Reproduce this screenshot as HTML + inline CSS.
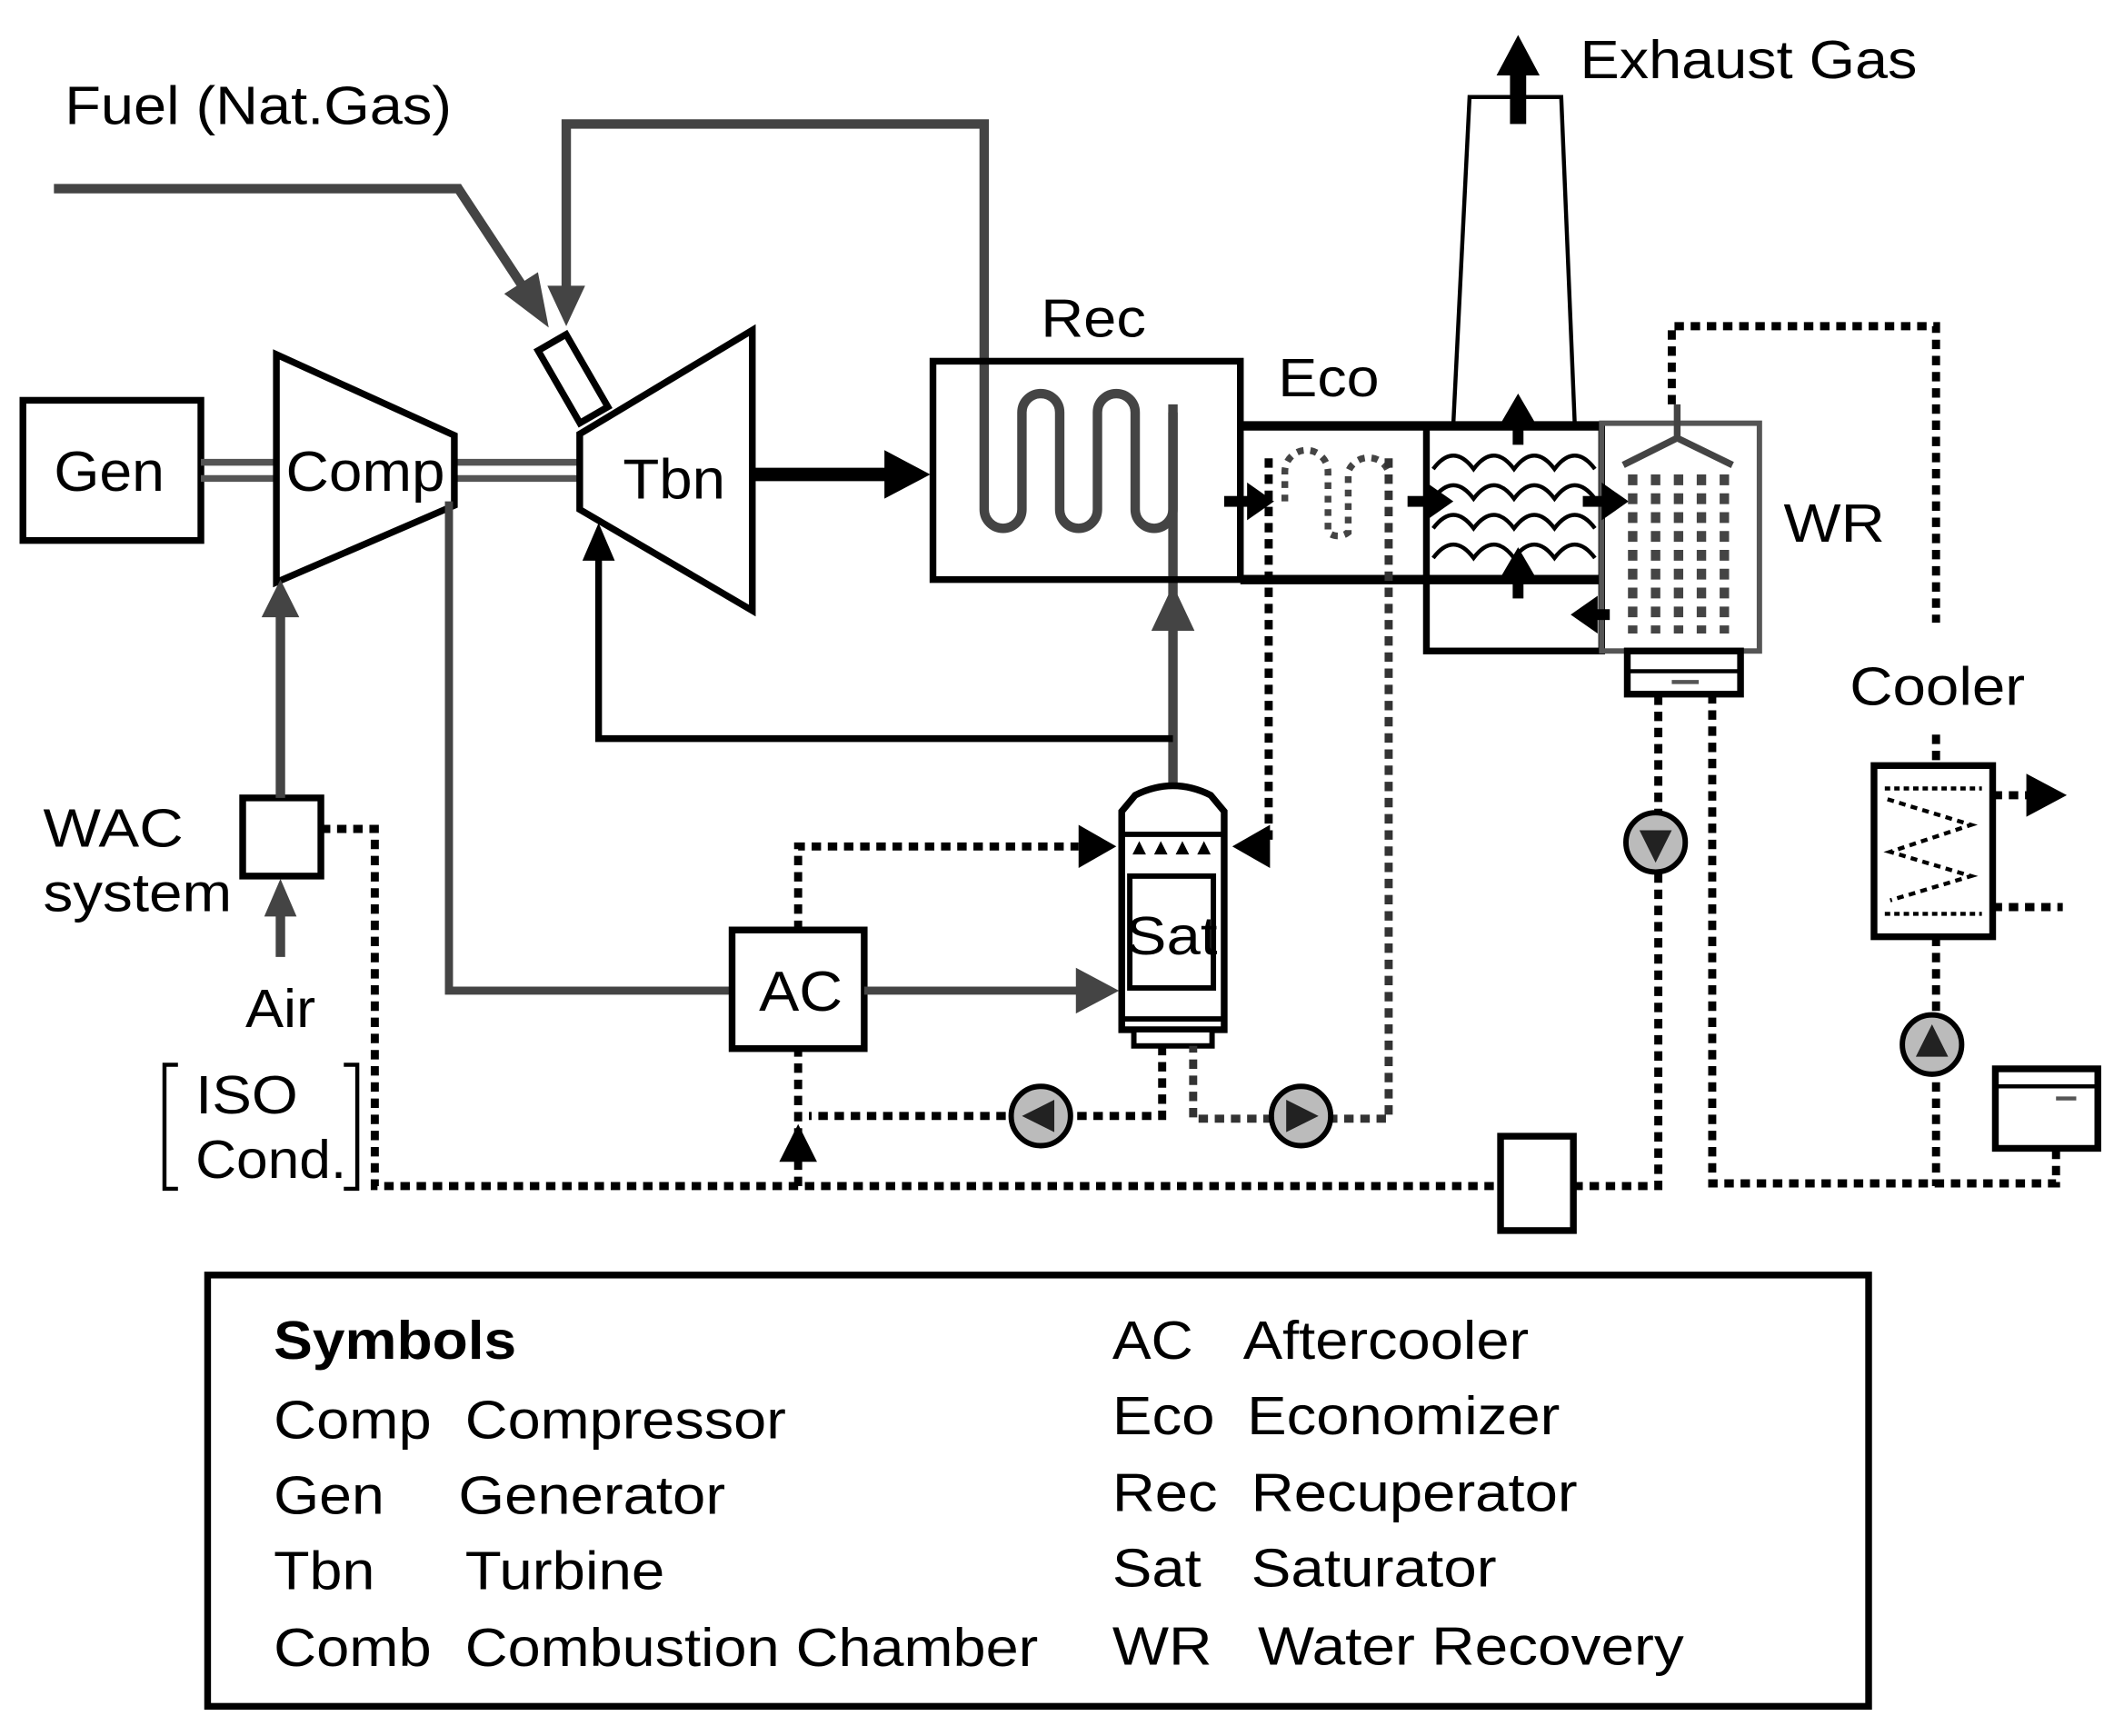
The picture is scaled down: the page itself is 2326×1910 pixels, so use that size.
<!DOCTYPE html>
<html><head><meta charset="utf-8"><style>
html,body{margin:0;padding:0;background:#fff;}
svg{display:block;}
text{font-family:"Liberation Sans",Arial,sans-serif;fill:#000;}
</style></head><body>
<svg width="2326" height="1910" viewBox="0 0 1568 1288" preserveAspectRatio="none" xmlns="http://www.w3.org/2000/svg">
<rect width="1568" height="1288" fill="#fff"/>

<!-- labels -->
<text x="48" y="92" font-size="40" textLength="287" lengthAdjust="spacingAndGlyphs">Fuel (Nat.Gas)</text>
<text x="1172" y="58" font-size="40" textLength="250" lengthAdjust="spacingAndGlyphs">Exhaust Gas</text>
<text x="772" y="250" font-size="40" textLength="78" lengthAdjust="spacingAndGlyphs">Rec</text>
<text x="948" y="294" font-size="40" textLength="75" lengthAdjust="spacingAndGlyphs">Eco</text>
<text x="1323" y="402" font-size="40" textLength="75" lengthAdjust="spacingAndGlyphs">WR</text>
<text x="1372" y="523" font-size="40" textLength="130" lengthAdjust="spacingAndGlyphs">Cooler</text>
<text x="32" y="628" font-size="40" textLength="104" lengthAdjust="spacingAndGlyphs">WAC</text>
<text x="32" y="676" font-size="40" textLength="140" lengthAdjust="spacingAndGlyphs">system</text>
<text x="182" y="762" font-size="40" textLength="52" lengthAdjust="spacingAndGlyphs">Air</text>
<text x="145" y="826" font-size="40" textLength="76" lengthAdjust="spacingAndGlyphs">ISO</text>
<text x="145" y="874" font-size="40" textLength="112" lengthAdjust="spacingAndGlyphs">Cond.</text>
<path d="M132,790 L122,790 L122,882 L132,882 M255,790 L265,790 L265,882 L255,882" fill="none" stroke="#000" stroke-width="3"/>

<!-- Gen -->
<rect x="17" y="297" width="132" height="104" fill="none" stroke="#000" stroke-width="5"/>
<text x="40" y="364" font-size="42" textLength="82" lengthAdjust="spacingAndGlyphs">Gen</text>
<path d="M149,343 H205 M149,355 H205 M337,343 H430 M337,355 H430" stroke="#555" stroke-width="5"/>
<!-- Comp -->
<polygon points="205,263 337,323 337,375 205,432" fill="#fff" stroke="#000" stroke-width="5"/>
<text x="212" y="364" font-size="42" textLength="118" lengthAdjust="spacingAndGlyphs">Comp</text>
<!-- Tbn -->
<polygon points="430,322 558,245 558,453 430,378" fill="#fff" stroke="#000" stroke-width="5"/>
<text x="462" y="370" font-size="42" textLength="76" lengthAdjust="spacingAndGlyphs">Tbn</text>
<!-- Comb -->
<rect x="413" y="250" width="24" height="62" fill="#fff" stroke="#000" stroke-width="5" transform="rotate(-30 425 281)"/>

<!-- fuel line -->
<path d="M40,140 H340 L388,213" fill="none" stroke="#444" stroke-width="7"/>
<polygon points="407,243 374,218 399,202" fill="#444"/>
<!-- loop from top into rec -->
<path d="M420,215 V92 H730 V378 A14 14 0 0 0 758 378 V306 A14 14 0 0 1 786 306 V378 A14 14 0 0 0 814 378 V306 A14 14 0 0 1 842 306 V378 A14 14 0 0 0 870 378 V306" fill="none" stroke="#444" stroke-width="7"/>
<polygon points="406,212 434,212 420,242" fill="#444"/>
<path d="M870,300 V548 M870,585 V460" fill="none" stroke="#444" stroke-width="7"/>
<polygon points="854,468 886,468 870,434" fill="#444"/>
<!-- return to turbine -->
<path d="M870,548 H444 V410" fill="none" stroke="#000" stroke-width="5"/>
<polygon points="432,416 456,416 444,388" fill="#000"/>

<!-- thick turbine exhaust -->
<path d="M558,352 H662" stroke="#000" stroke-width="10"/>
<polygon points="656,334 690,352 656,370" fill="#000"/>

<!-- Rec box -->
<rect x="692" y="268" width="228" height="162" fill="none" stroke="#000" stroke-width="5"/>
<!-- Eco etc -->
<path d="M920,316 H1190 M920,430 H1190" stroke="#000" stroke-width="7"/>
<rect x="1058" y="316" width="130" height="167" fill="none" stroke="#000" stroke-width="5"/>
<rect x="1188" y="314" width="117" height="169" fill="none" stroke="#555" stroke-width="4"/>
<!-- eco dotted coil -->
<path d="M953,372 V350 A16 16 0 0 1 985 350 V395 A12 12 0 0 0 1000 395 V350 A16 16 0 0 1 1030 350" fill="none" stroke="#444" stroke-width="5" stroke-dasharray="5 5"/>
<!-- wavy lines -->
<g fill="none" stroke="#000" stroke-width="3">
<path d="M1063,348 q15,-20 30,0 q15,-20 30,0 q15,-20 30,0 q15,-20 30,0"/>
<path d="M1063,370 q15,-20 30,0 q15,-20 30,0 q15,-20 30,0 q15,-20 30,0"/>
<path d="M1063,392 q15,-20 30,0 q15,-20 30,0 q15,-20 30,0 q15,-20 30,0"/>
<path d="M1063,414 q15,-20 30,0 q15,-20 30,0 q15,-20 30,0 q15,-20 30,0"/>
</g>
<!-- small arrows -->
<g fill="#000">
<polygon points="1112,316 1126,292 1140,316"/><rect x="1122" y="316" width="8" height="14"/>
<polygon points="1112,430 1126,406 1140,430"/><rect x="1122" y="430" width="8" height="14"/>
<polygon points="925,358 945,372 925,386"/><rect x="908" y="368" width="18" height="8"/>
<polygon points="1058,358 1078,372 1058,386"/><rect x="1044" y="368" width="16" height="8"/>
<polygon points="1188,358 1208,372 1188,386"/><rect x="1174" y="368" width="16" height="8"/>
<polygon points="1185,442 1165,456 1185,470"/><rect x="1184" y="452" width="10" height="8"/>
</g>
<!-- WR spray + packing -->
<path d="M1244,300 V325 M1244,325 L1204,345 M1244,325 L1285,345" stroke="#444" stroke-width="5" fill="none"/>
<g stroke="#444" stroke-width="7" stroke-dasharray="8 6">
<path d="M1211,352 V470 M1228,352 V470 M1245,352 V470 M1262,352 V470 M1279,352 V470"/>
</g>
<!-- WR sump -->
<rect x="1207" y="483" width="84" height="32" fill="#fff" stroke="#000" stroke-width="5"/>
<path d="M1207,498 H1291" stroke="#000" stroke-width="3"/>
<path d="M1240,506 H1260" stroke="#555" stroke-width="3"/>

<!-- stack -->
<path d="M1078,314 L1090,72 H1158 L1168,314" fill="none" stroke="#000" stroke-width="3"/>
<rect x="1120" y="52" width="12" height="40" fill="#000"/>
<polygon points="1110,56 1126,26 1142,56" fill="#000"/>

<!-- Air / WAC -->
<rect x="180" y="592" width="58" height="58" fill="#fff" stroke="#000" stroke-width="5"/>
<path d="M208,710 V675" stroke="#444" stroke-width="7"/>
<polygon points="196,680 220,680 208,652" fill="#444"/>
<path d="M208,592 V450" stroke="#444" stroke-width="7"/>
<polygon points="194,458 222,458 208,430" fill="#444"/>
<!-- comp to AC to Sat -->
<path d="M333,372 V735 H543" fill="none" stroke="#444" stroke-width="6"/>
<rect x="543" y="690" width="98" height="88" fill="#fff" stroke="#000" stroke-width="5"/>
<text x="563" y="750" font-size="42" textLength="62" lengthAdjust="spacingAndGlyphs">AC</text>
<path d="M641,735 H800" stroke="#444" stroke-width="6"/>
<polygon points="798,718 830,735 798,752" fill="#444"/>

<!-- Sat vessel -->
<path d="M832,764 V602 L842,590 Q870,576 898,590 L908,602 V764 Z" fill="#fff" stroke="#000" stroke-width="5"/>
<path d="M832,619 H908 M832,756 H908" stroke="#000" stroke-width="4"/>
<rect x="841" y="764" width="58" height="12" fill="#fff" stroke="#000" stroke-width="4"/>
<g fill="#000"><polygon points="840,634 845,624 850,634"/><polygon points="856,634 861,624 866,634"/><polygon points="872,634 877,624 882,634"/><polygon points="888,634 893,624 898,634"/></g>
<rect x="838" y="650" width="62" height="83" fill="#fff" stroke="#000" stroke-width="4"/>
<text x="835" y="708" font-size="40" textLength="68" lengthAdjust="spacingAndGlyphs">Sat</text>

<!-- dotted lines -->
<g fill="none" stroke="#000" stroke-width="6" stroke-dasharray="7 5">
<path d="M238,615 H278 V880 H1113"/>
<path d="M592,880 V778 M592,690 V628 H800"/>
<path d="M941,340 V628 H935"/>
<path d="M862,776 V828 H600"/>
<path d="M1167,880 H1230 V515"/>
<path d="M1240,300 V242 H1436 V462"/>
<path d="M1436,545 V568 M1436,695 V880 M1270,515 V878 H1525 V852"/>
<path d="M1478,590 H1505 M1478,673 H1530"/>
</g>
<g fill="none" stroke="#333" stroke-width="6" stroke-dasharray="7 5">
<path d="M1030,340 V830 H885 V776"/>
</g>
<polygon points="800,612 828,628 800,644" fill="#000"/>
<polygon points="942,612 914,628 942,644" fill="#000"/>
<polygon points="578,862 592,834 606,862" fill="#000"/>
<polygon points="1503,574 1533,590 1503,606" fill="#000"/>

<!-- pumps -->
<g stroke="#000" stroke-width="4" fill="#bbb">
<circle cx="772" cy="828" r="22"/><circle cx="965" cy="828" r="22"/>
<circle cx="1228" cy="625" r="22"/><circle cx="1433" cy="775" r="22"/>
</g>
<g fill="#222">
<polygon points="758,828 782,816 782,840"/><polygon points="978,828 954,816 954,840"/>
<polygon points="1228,640 1216,616 1240,616"/><polygon points="1433,760 1421,784 1445,784"/>
</g>

<!-- box -->
<rect x="1113" y="843" width="54" height="70" fill="#fff" stroke="#000" stroke-width="5"/>
<!-- cooler -->
<rect x="1390" y="568" width="88" height="127" fill="#fff" stroke="#000" stroke-width="5"/>
<path d="M1398,585 H1470 M1398,678 H1470" stroke="#000" stroke-width="3" stroke-dasharray="4 3"/>
<path d="M1400,593 L1462,612 L1402,632 L1462,650 L1402,668" fill="none" stroke="#000" stroke-width="3" stroke-dasharray="5 4"/>
<!-- tank -->
<rect x="1480" y="793" width="76" height="59" fill="#fff" stroke="#000" stroke-width="5"/>
<path d="M1480,806 H1556" stroke="#000" stroke-width="3"/>
<path d="M1525,815 H1540" stroke="#555" stroke-width="3"/>

<!-- legend -->
<rect x="154" y="946" width="1232" height="320" fill="none" stroke="#000" stroke-width="5"/>
<g font-size="40">
<text x="203" y="1008" font-weight="bold" textLength="180" lengthAdjust="spacingAndGlyphs">Symbols</text>
<text x="203" y="1067" textLength="117" lengthAdjust="spacingAndGlyphs">Comp</text><text x="345" y="1067" textLength="238" lengthAdjust="spacingAndGlyphs">Compressor</text>
<text x="203" y="1123" textLength="82" lengthAdjust="spacingAndGlyphs">Gen</text><text x="340" y="1123" textLength="198" lengthAdjust="spacingAndGlyphs">Generator</text>
<text x="203" y="1179" textLength="75" lengthAdjust="spacingAndGlyphs">Tbn</text><text x="345" y="1179" textLength="148" lengthAdjust="spacingAndGlyphs">Turbine</text>
<text x="203" y="1236" textLength="117" lengthAdjust="spacingAndGlyphs">Comb</text><text x="345" y="1236" textLength="425" lengthAdjust="spacingAndGlyphs">Combustion Chamber</text>
<text x="825" y="1008" textLength="60" lengthAdjust="spacingAndGlyphs">AC</text><text x="922" y="1008" textLength="212" lengthAdjust="spacingAndGlyphs">Aftercooler</text>
<text x="825" y="1064" textLength="76" lengthAdjust="spacingAndGlyphs">Eco</text><text x="925" y="1064" textLength="232" lengthAdjust="spacingAndGlyphs">Economizer</text>
<text x="825" y="1121" textLength="78" lengthAdjust="spacingAndGlyphs">Rec</text><text x="928" y="1121" textLength="242" lengthAdjust="spacingAndGlyphs">Recuperator</text>
<text x="825" y="1177" textLength="66" lengthAdjust="spacingAndGlyphs">Sat</text><text x="928" y="1177" textLength="182" lengthAdjust="spacingAndGlyphs">Saturator</text>
<text x="825" y="1235" textLength="74" lengthAdjust="spacingAndGlyphs">WR</text><text x="933" y="1235" textLength="316" lengthAdjust="spacingAndGlyphs">Water Recovery</text>
</g>
</svg>
</body></html>
